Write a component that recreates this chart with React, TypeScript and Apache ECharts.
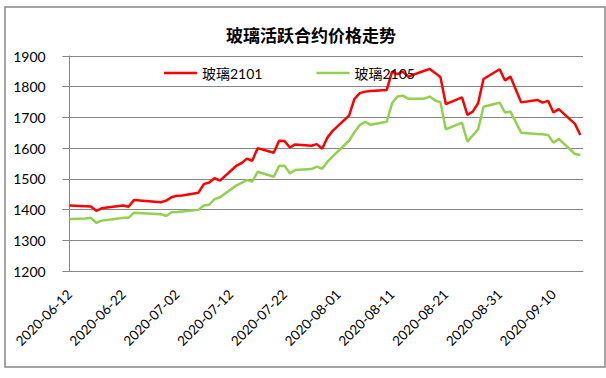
import React, { useEffect, useRef } from "react";
import * as echarts from "echarts";

const dates = [
  "2020-06-12", "2020-06-15", "2020-06-16", "2020-06-17", "2020-06-18", "2020-06-19",
  "2020-06-22", "2020-06-23", "2020-06-24", "2020-06-29", "2020-06-30",
  "2020-07-01", "2020-07-02", "2020-07-03", "2020-07-06", "2020-07-07", "2020-07-08",
  "2020-07-09", "2020-07-10", "2020-07-13", "2020-07-14", "2020-07-15", "2020-07-16",
  "2020-07-17", "2020-07-20", "2020-07-21", "2020-07-22", "2020-07-23", "2020-07-24",
  "2020-07-27", "2020-07-28", "2020-07-29", "2020-07-30", "2020-07-31",
  "2020-08-03", "2020-08-04", "2020-08-05", "2020-08-06", "2020-08-07", "2020-08-10",
  "2020-08-11", "2020-08-12", "2020-08-13", "2020-08-14", "2020-08-17", "2020-08-18",
  "2020-08-19", "2020-08-20", "2020-08-21", "2020-08-24", "2020-08-25", "2020-08-26",
  "2020-08-27", "2020-08-28", "2020-08-31",
  "2020-09-01", "2020-09-02", "2020-09-03", "2020-09-04", "2020-09-07", "2020-09-08",
  "2020-09-09", "2020-09-10", "2020-09-11", "2020-09-14", "2020-09-15",
];

const fg2101 = [
  1413, 1411, 1410, 1396, 1404, 1407,
  1413, 1409, 1431, 1424, 1429,
  1440, 1445, 1446, 1455, 1483, 1488,
  1502, 1494, 1542, 1551, 1566, 1559,
  1600, 1585, 1624, 1623, 1602, 1612,
  1608, 1613, 1598, 1635, 1657,
  1706, 1760, 1779, 1784, 1786, 1789,
  1849, 1841, 1849, 1833, 1852, 1858,
  1845, 1831, 1743, 1765, 1708, 1719,
  1746, 1825, 1857,
  1820, 1833, 1791, 1749, 1757, 1748,
  1754, 1716, 1727, 1679, 1643,
];

const fg2105 = [
  1369, 1371, 1373, 1357, 1364, 1366,
  1373, 1373, 1390, 1385, 1379,
  1391, 1392, 1394, 1399, 1413, 1416,
  1434, 1440, 1478, 1487, 1496, 1491,
  1523, 1507, 1542, 1543, 1518, 1529,
  1532, 1540, 1533, 1556, 1574,
  1624, 1652, 1675, 1686, 1676, 1686,
  1746, 1768, 1771, 1761, 1761, 1768,
  1755, 1749, 1661, 1683, 1621, 1641,
  1661, 1735, 1748,
  1716, 1719, 1685, 1650, 1646, 1645,
  1643, 1618, 1630, 1581, 1578,
];

const xTickLabels = [
  "2020-06-12", "2020-06-22", "2020-07-02", "2020-07-12", "2020-07-22",
  "2020-08-01", "2020-08-11", "2020-08-21", "2020-08-31", "2020-09-10",
];

const seriesNames = ["玻璃2101", "玻璃2105"];
const titleText = "玻璃活跃合约价格走势";

const DAY = 86400000;
const base = Date.UTC(2020, 5, 12);
const dayIndex = (s: string) => {
  const [y, m, d] = s.split("-").map(Number);
  return Math.round((Date.UTC(y, m - 1, d) - base) / DAY);
};
const dayToLabel = (v: number) =>
  new Date(base + Math.round(v) * DAY).toISOString().slice(0, 10);

export default function App() {
  const ref = useRef<HTMLDivElement>(null);
  useEffect(() => {
    if (!ref.current) return;
    const chart = echarts.init(ref.current, undefined, { renderer: "svg" });
    const font = "Lato, 'Noto Sans CJK SC', sans-serif";
    chart.setOption({
      animation: false,
      backgroundColor: "#ffffff",
      title: {
        text: titleText,
        left: 306,
        textAlign: "center",
        top: 21,
        textStyle: {
          fontSize: 17,
          fontWeight: "bold",
          color: "#000",
          fontFamily: "'Noto Sans CJK SC', sans-serif",
        },
      },
      legend: {
        left: 159,
        top: 61,
        icon: "rect",
        itemWidth: 33,
        itemHeight: 2.5,
        itemGap: 54,
        textStyle: { fontSize: 14, color: "#000", fontFamily: font },
        data: seriesNames,
      },
      grid: { left: 66.7, right: 23, top: 56, bottom: 107, containLabel: false },
      xAxis: {
        type: "value",
        min: -0.5,
        max: 95.5,
        splitLine: { show: false },
        axisTick: { show: false },
        axisLine: { show: true, lineStyle: { color: "#868686", width: 1 } },
        axisLabel: {
          customValues: xTickLabels.map(dayIndex),
          formatter: (v: number) => dayToLabel(v),
          rotate: 45,
          margin: 21,
          fontSize: 13.5,
          color: "#000",
          fontFamily: font,
        },
      },
      yAxis: {
        type: "value",
        min: 1200,
        max: 1900,
        interval: 100,
        axisLine: { show: true, lineStyle: { color: "#868686", width: 1 } },
        axisTick: { show: true, length: 7, lineStyle: { color: "#868686" } },
        splitLine: { show: true, lineStyle: { color: "#868686", width: 1 } },
        axisLabel: {
          fontSize: 14,
          color: "#000",
          margin: 21,
          fontFamily: font,
          formatter: (v: number) => String(v),
        },
      },
      graphic: [
        {
          type: "rect",
          shape: { x: 5, y: 7, width: 600, height: 360 },
          style: { fill: "none", stroke: "#888888", lineWidth: 1.5 },
          silent: true,
        },
      ],
      series: [
        {
          name: seriesNames[0],
          type: "line",
          showSymbol: false,
          symbol: "none",
          lineStyle: { color: "#ff0000", width: 2.5 },
          itemStyle: { color: "#ff0000" },
          data: dates.map((d, i) => [dayIndex(d), fg2101[i]]),
        },
        {
          name: seriesNames[1],
          type: "line",
          showSymbol: false,
          symbol: "none",
          lineStyle: { color: "#92d050", width: 2.5 },
          itemStyle: { color: "#92d050" },
          data: dates.map((d, i) => [dayIndex(d), fg2105[i]]),
        },
      ],
    });
    return () => chart.dispose();
  }, []);
  return (
    <div
      ref={ref}
      style={{ position: "absolute", left: 0, top: 0, width: 606, height: 378 }}
    />
  );
}
